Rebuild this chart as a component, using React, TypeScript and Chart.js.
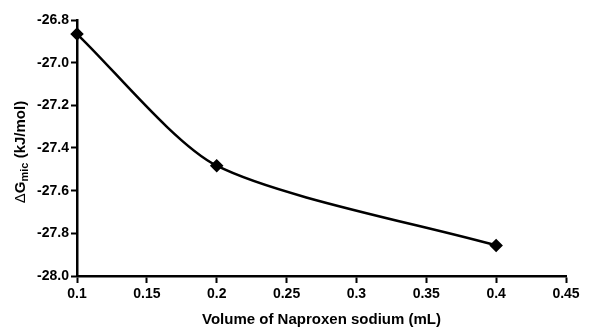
import React, { useEffect, useRef } from "react";
import { Chart, registerables } from "chart.js";

Chart.register(...registerables);

const volumes = [0.1, 0.2, 0.4];
const deltaG = [-26.866, -27.483, -27.857];
const xTicks = [0.1, 0.15, 0.2, 0.25, 0.3, 0.35, 0.4, 0.45];
const yTicks = [-26.8, -27.0, -27.2, -27.4, -27.6, -27.8, -28.0];

const FONT = "'Liberation Sans', Arial, sans-serif";

const yTitlePlugin = {
  id: "yTitle",
  afterDraw(chart: any) {
    const ctx = chart.ctx;
    ctx.save();
    ctx.translate(21, 152);
    ctx.rotate(-Math.PI / 2);
    ctx.fillStyle = "#000";
    ctx.textBaseline = "middle";
    const big = `bold 15px ${FONT}`;
    const delta = `15px ${FONT}`;
    const small = `bold 11px ${FONT}`;
    const parts: [string, string, number][] = [
      ["\u0394", delta, 0],
      ["G", big, 0],
      ["mic", small, 4],
      [" (kJ/mol)", big, 0],
    ];
    let total = 0;
    for (const [t, f] of parts) {
      ctx.font = f;
      total += ctx.measureText(t).width;
    }
    let x = -total / 2;
    ctx.textAlign = "left";
    for (const [t, f, dy] of parts) {
      ctx.font = f;
      ctx.fillText(t, x, dy);
      x += ctx.measureText(t).width;
    }
    ctx.restore();
  },
};

export default function App() {
  const ref = useRef<HTMLCanvasElement>(null);
  useEffect(() => {
    document.body.style.margin = "0";
    const chart = new Chart(ref.current!, {
      type: "line",
      data: {
        datasets: [
          {
            data: volumes.map((v, i) => ({ x: v, y: deltaG[i] })),
            borderColor: "#000",
            backgroundColor: "#000",
            borderWidth: 2.5,
            tension: 0.25,
            pointStyle: "rectRot",
            pointRadius: 5,
            pointBackgroundColor: "#000",
            pointBorderColor: "#000",
            fill: false,
            clip: false,
          },
        ],
      },
      options: {
        responsive: false,
        animation: false,
        layout: { padding: { top: 20, right: 25, left: 0, bottom: 0 } },
        plugins: { legend: { display: false }, tooltip: { enabled: false } },
        scales: {
          x: {
            type: "linear",
            min: 0.1,
            max: 0.45,
            afterFit(scale: any) {
              scale.height = 53;
            },
            afterBuildTicks(scale: any) {
              scale.ticks = xTicks.map((v) => ({ value: v }));
            },
            ticks: {
              color: "#000",
              font: { family: FONT, weight: "bold", size: 14 },
              padding: 3,
              maxRotation: 0,
              autoSkip: false,
              callback: (v: any) => String(Number(v)),
            },
            grid: {
              drawOnChartArea: false,
              drawTicks: true,
              tickLength: 7,
              tickWidth: 2,
              tickColor: "#000",
            },
            border: { color: "#000", width: 2.5 },
            title: {
              display: true,
              text: "Volume of Naproxen sodium (mL)",
              color: "#000",
              font: { family: FONT, weight: "bold", size: 15 },
              padding: { top: 1, bottom: 0 },
            },
          },
          y: {
            type: "linear",
            min: -28.0,
            max: -26.8,
            afterFit(scale: any) {
              scale.width = 77;
            },
            afterBuildTicks(scale: any) {
              scale.ticks = yTicks.map((v) => ({ value: v }));
            },
            ticks: {
              color: "#000",
              font: { family: FONT, weight: "bold", size: 14 },
              padding: 2,
              autoSkip: false,
              callback: (v: any) => Number(v).toFixed(1),
            },
            grid: {
              drawOnChartArea: false,
              drawTicks: true,
              tickLength: 6,
              tickWidth: 2,
              tickColor: "#000",
            },
            border: { color: "#000", width: 2.5 },
          },
        },
      },
      plugins: [yTitlePlugin],
    });
    return () => chart.destroy();
  }, []);
  return <canvas ref={ref} width={591} height={329} />;
}
